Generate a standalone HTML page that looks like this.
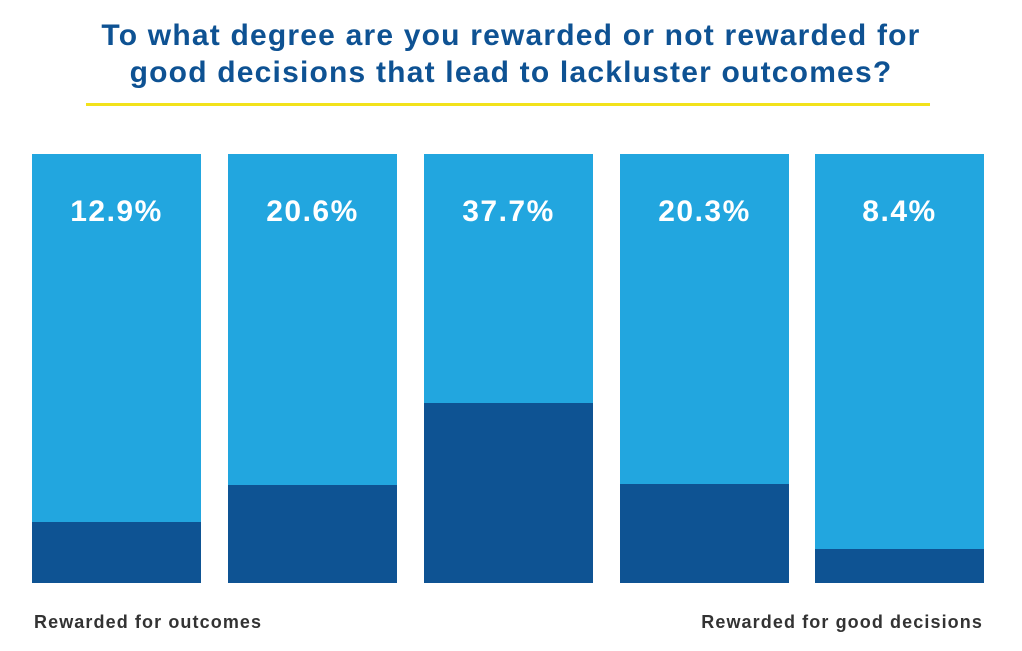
<!DOCTYPE html>
<html><head><style>
body{margin:0;width:1022px;height:651px;background:#fff;position:relative;overflow:hidden;font-family:"Liberation Sans",sans-serif;}
.t{position:absolute;left:0;width:1022px;text-align:center;color:#0e5293;font-weight:bold;font-size:30px;letter-spacing:1.2px;line-height:37px;top:17px;}
.y{position:absolute;left:86px;width:844px;top:103px;height:3px;background:#f2e21b;}
.b{position:absolute;top:154px;height:429px;width:169px;background:#22a6df;}
.d{position:absolute;left:0;bottom:0;width:100%;background:#0e5393;}
.p{position:absolute;top:41px;width:100%;text-align:center;color:#fff;font-weight:bold;font-size:30px;letter-spacing:1.5px;}
.l{position:absolute;top:612px;font-size:18px;letter-spacing:1.1px;font-weight:bold;color:#333;}
</style></head><body>
<div class="t">To what degree are you rewarded or not rewarded for<br>good decisions that lead to lackluster outcomes?</div>
<div class="y"></div>
<div class="b" style="left:32px"><div class="d" style="height:61px"></div><div class="p">12.9%</div></div>
<div class="b" style="left:228px"><div class="d" style="height:98px"></div><div class="p">20.6%</div></div>
<div class="b" style="left:424px"><div class="d" style="height:180px"></div><div class="p">37.7%</div></div>
<div class="b" style="left:620px"><div class="d" style="height:99px"></div><div class="p">20.3%</div></div>
<div class="b" style="left:815px"><div class="d" style="height:34px"></div><div class="p">8.4%</div></div>
<div class="l" style="left:34px">Rewarded for outcomes</div>
<div class="l" style="right:39px">Rewarded for good decisions</div>
</body></html>
